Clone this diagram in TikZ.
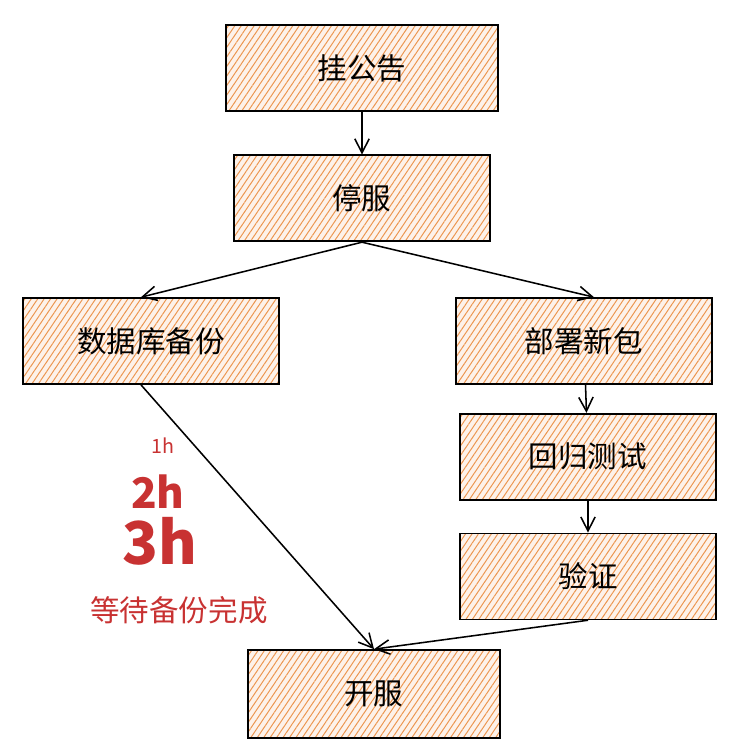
\documentclass[tikz,border=0pt]{standalone}
\usepackage{fontspec}
\setmainfont{Noto Sans CJK SC}
\usepackage{tikz}
\usetikzlibrary{arrows.meta, positioning, calc, patterns.meta}
\definecolor{hatch}{RGB}{236, 150, 80}
\definecolor{notered}{RGB}{200, 50, 50}

\begin{document}
\begin{tikzpicture}[
    font=\fontsize{21}{25}\selectfont,
    box/.style={draw, line width=1.2pt, minimum width=6.4cm, minimum height=2.15cm, align=center,
        preaction={fill=hatch!12},
        pattern={Lines[angle=56, distance=3.8pt, line width=0.7pt]}, pattern color=hatch},
    arr/.style={-{Straight Barb[length=3.5mm, width=3.6mm]}, line width=1.1pt},
    note/.style={text=notered, font=\fontsize{21}{25}\selectfont},
]
\useasboundingbox (-9.05,1.7) rectangle (9.4,-17.2);

% --- Announcement and shutdown ---
\node[box, minimum width=6.8cm] (notice) at (0,0) {挂公告};
\node[box, below=1.075cm of notice] (stop) {停服};

% --- Two branches ---
\node[box, below=1.375cm of stop, xshift=-5.275cm] (backup) {数据库备份};
\node[box, below=1.375cm of stop, xshift=5.55cm] (deploy) {部署新包};
\node[box, below=0.7cm of deploy, xshift=0.1cm] (test) {回归测试};
\node[box, below=0.8cm of test] (verify) {验证};

% --- Back online ---
\node[box, minimum width=6.3cm, minimum height=2.2cm] (open) at (0.3,-15.65) {开服};

% --- Connectors ---
\draw[arr] (notice) -- (stop);
\draw[arr] (stop.south) -- ($(backup.north)+(-0.25,0)$);
\draw[arr] (stop.south) -- ($(deploy.north)+(0.25,0)$);
\draw[arr] (deploy) -- (test);
\draw[arr] (test) -- (verify);
\draw[arr] ($(backup.south)+(-0.25,0)$) -- (open.north);
\draw[arr] (verify.south) -- (open.north);

% --- Waiting annotation ---
\node[note, font=\fontsize{14}{16}\selectfont] (t1) at (-4.975,-9.45) {1h};
\node[note, font=\fontsize{30}{34}\selectfont\bfseries] (t2) at (-5.1,-10.6) {2h};
\node[note, font=\fontsize{42}{46}\selectfont\bfseries] (t3) at (-5.05,-11.825) {3h};
\node[note] (wait) at (-4.575,-13.55) {等待备份完成};

\end{tikzpicture}
\end{document}
